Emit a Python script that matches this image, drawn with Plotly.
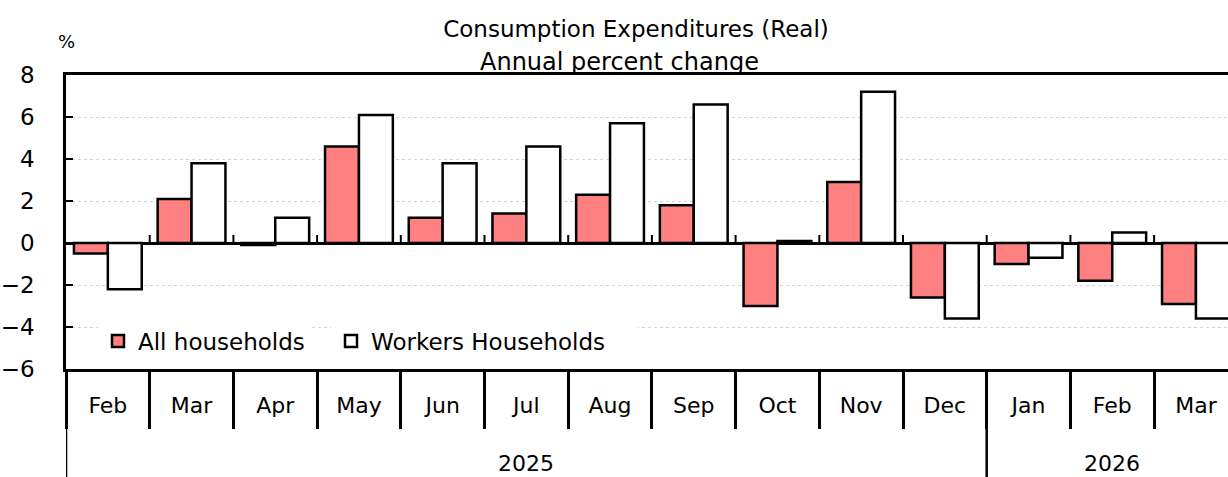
import plotly.graph_objects as go

# ---- data ----
years = ["2025"] * 11 + ["2026"] * 3
months = ["Feb", "Mar", "Apr", "May", "Jun", "Jul", "Aug", "Sep", "Oct", "Nov", "Dec", "Jan", "Feb", "Mar"]
all_households = [-0.5, 2.1, -0.1, 4.6, 1.2, 1.4, 2.3, 1.8, -3.0, 2.9, -2.6, -1.0, -1.8, -2.9]
workers_households = [-2.2, 3.8, 1.2, 6.1, 3.8, 4.6, 5.7, 6.6, 0.1, 7.2, -3.6, -0.7, 0.5, -3.6]
y_ticks = [-6, -4, -2, 0, 2, 4, 6, 8]
title_line1 = "Consumption Expenditures (Real)"
title_line2 = "Annual percent change"
unit_label = "%"

FONT = "DejaVu Sans"
cats = [f"{y} {m}" for y, m in zip(years, months)]
n = len(cats)

# geometry of the picture
W, H = 1228, 477
ML, MR, MT, MB = 66, 0, 75, 108
PW, PH = W - ML - MR, H - MT - MB
cat_px = 83.7
x_hi = -0.5 + PW / cat_px
px_per_unit = PH / (y_ticks[-1] - y_ticks[0])

fig = go.Figure()
fig.add_trace(go.Bar(name="All households", x=cats, y=all_households, legend="legend",
                     marker=dict(color="#FF8080", line=dict(color="black", width=2.5))))
fig.add_trace(go.Bar(name="Workers Households", x=cats, y=workers_households, legend="legend2",
                     marker=dict(color="white", line=dict(color="black", width=2.5))))

# year group labels and dividers
groups = []
for i, y in enumerate(years):
    if not groups or groups[-1][0] != y:
        groups.append([y, i, i])
    else:
        groups[-1][2] = i

annotations = []
shapes = []
for y, a, b in groups:
    annotations.append(dict(text=y, x=(a + b) / 2, xref="x", y=-(463 - (H - MB)) / PH, yref="paper",
                            yanchor="middle", showarrow=False, font=dict(size=22, color="black", family=FONT)))
    shapes.append(dict(type="line", xref="x", yref="paper", x0=a - 0.5, x1=a - 0.5, y0=0, y1=-MB / PH,
                       line=dict(color="black", width=2.5)))

# small upward ticks on the zero line at category boundaries
for i in range(n - 1):
    shapes.append(dict(type="line", xref="x", yref="y", x0=i + 0.5, x1=i + 0.5, y0=0, y1=8 / px_per_unit,
                       line=dict(color="black", width=2)))

annotations.append(dict(text=unit_label, x=0, xref="paper", y=(H - MB - 42) / PH, yref="paper",
                        xanchor="center", yanchor="middle", showarrow=False,
                        font=dict(size=18, color="black", family=FONT)))
annotations.append(dict(text=title_line2, x=(619 - ML) / PW, xref="paper", y=(H - MB - 62) / PH, yref="paper",
                        xanchor="center", yanchor="middle", showarrow=False,
                        font=dict(size=24, color="black", family=FONT)))

legend_common = dict(orientation="h", xanchor="left", y=(H - MB - 341) / PH, yanchor="middle",
                     bgcolor="white", font=dict(size=23, family=FONT, color="black"))

fig.update_layout(
    width=W, height=H,
    margin=dict(l=ML, r=MR, t=MT, b=MB, pad=0),
    paper_bgcolor="white", plot_bgcolor="white",
    font=dict(family=FONT, size=22, color="black"),
    title=dict(text=title_line1, x=(636 - ML) / PW, xref="paper", xanchor="center",
               y=1 - 29 / H, yref="container", yanchor="middle",
               font=dict(size=23, color="black", family=FONT)),
    barmode="group", bargap=0.19, bargroupgap=0,
    showlegend=True,
    legend=dict(x=(98 - ML) / PW, **legend_common),
    legend2=dict(x=(331 - ML) / PW, entrywidth=262, **legend_common),
    xaxis=dict(type="category", categoryorder="array", categoryarray=cats, range=[-0.5, x_hi],
               tickmode="array", tickvals=cats, ticktext=months, tickson="boundaries",
               ticks="outside", ticklen=57, tickwidth=2.5, tickcolor="black", ticklabelstandoff=15,
               showline=True, linewidth=2.5, linecolor="black", mirror=True, showgrid=False,
               tickfont=dict(size=22, family=FONT, color="black")),
    yaxis=dict(range=[y_ticks[0], y_ticks[-1]], tickmode="array", tickvals=y_ticks,
               ticktext=[str(v).replace("-", "\u2212") for v in y_ticks],
               ticks="inside", ticklen=7, tickwidth=2, tickcolor="black", ticklabelstandoff=24,
               showline=True, linewidth=2.5, linecolor="black",
               showgrid=True, gridcolor="#d4d4d4", griddash="dot", gridwidth=1,
               zeroline=True, zerolinecolor="black", zerolinewidth=2.5,
               tickfont=dict(size=23, family=FONT, color="black")),
    annotations=annotations,
    shapes=shapes,
)

fig.write_html("out.html", config={"displayModeBar": False},
               post_script="document.body.style.margin='0';")
